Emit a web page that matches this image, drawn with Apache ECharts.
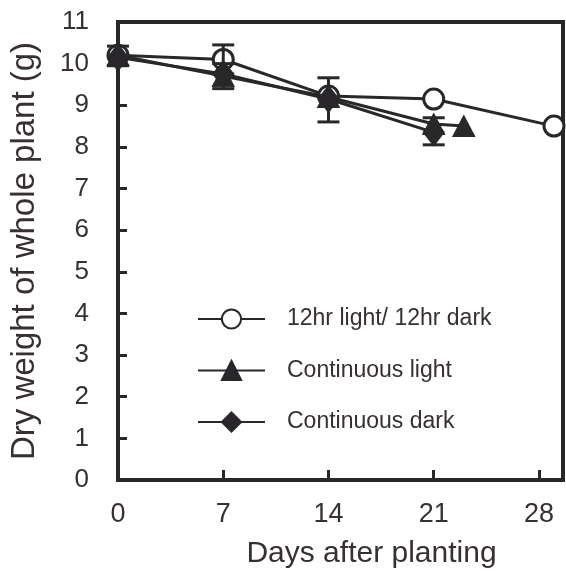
<!DOCTYPE html>
<html>
<head>
<meta charset="utf-8">
<title>Dry weight of whole plant</title>
<script src="https://cdn.jsdelivr.net/npm/echarts@6/dist/echarts.min.js"></script>
<style>
  html, body { margin: 0; padding: 0; background: #ffffff; }
  #chart { width: 566px; height: 586px; }
</style>
</head>
<body>
<div id="chart"></div>
<script>
// Dry weight (g) of the whole plant over days after planting, three light regimes
const lightDarkDays = [0, 7, 14, 21, 29];
const lightDarkWeight = [10.2, 10.1, 9.22, 9.15, 8.5];

const contLightDays = [0, 7, 14, 21, 23];
const contLightWeight = [10.2, 9.7, 9.2, 8.55, 8.5];

const contDarkDays = [0, 7, 14, 21];
const contDarkWeight = [10.15, 9.75, 9.15, 8.35];

// Error bars: day, lower and upper bound
const errDays = [0, 7, 7, 14, 21];
const errLow = [9.95, 9.75, 9.4, 8.6, 8.05];
const errHigh = [10.42, 10.45, 10.0, 9.66, 8.7];

const xTicks = [0, 7, 14, 21, 28];
const yTicks = [0, 1, 2, 3, 4, 5, 6, 7, 8, 9, 10, 11];

const seriesNames = ['12hr light/ 12hr dark', 'Continuous light', 'Continuous dark'];

const ink = '#29272a';
const textInk = '#363034';
const fontFamily = '"Liberation Sans", Arial, Helvetica, sans-serif';

function pairs(xs, ys) {
  return xs.map((x, i) => [x, ys[i]]);
}

const chart = echarts.init(document.getElementById('chart'), null, { renderer: 'canvas' });

const option = {
  backgroundColor: '#ffffff',
  animation: false,
  textStyle: { fontFamily: fontFamily, color: textInk },
  grid: {
    left: 113, right: 3, top: 22, bottom: 106,
    show: true, borderColor: ink, borderWidth: 4, backgroundColor: 'transparent'
  },
  legend: {
    orient: 'vertical',
    left: 197,
    top: 307,
    padding: 0,
    itemWidth: 67,
    itemHeight: 24,
    itemGap: 27.5,
    data: seriesNames,
    textStyle: {
      fontFamily: fontFamily, fontSize: 23, color: textInk,
      lineHeight: 24, padding: [0, 0, 0, 17]
    }
  },
  xAxis: {
    type: 'value',
    min: 0,
    max: 29.6,
    interval: 7,
    name: 'Days after planting',
    nameLocation: 'middle',
    nameGap: 59,
    nameTextStyle: { fontSize: 30, color: textInk, padding: [0, 0, 0, 62] },
    axisLine: { show: true, onZero: false, lineStyle: { color: ink, width: 4 } },
    axisTick: { show: true, inside: true, length: 10, lineStyle: { color: ink, width: 3 }, customValues: xTicks },
    axisLabel: { fontSize: 27, color: textInk, margin: 21, customValues: xTicks },
    splitLine: { show: false }
  },
  yAxis: {
    type: 'value',
    min: 0,
    max: 11,
    interval: 1,
    name: 'Dry weight of whole plant (g)',
    nameLocation: 'middle',
    nameRotate: 90,
    nameGap: 77,
    nameTextStyle: { fontSize: 33, color: textInk },
    axisLine: { show: true, onZero: false, lineStyle: { color: ink, width: 4 } },
    axisTick: { show: true, inside: true, length: 9, lineStyle: { color: ink, width: 3 }, customValues: yTicks },
    axisLabel: { fontSize: 26, color: textInk, margin: 29, customValues: yTicks },
    splitLine: { show: false }
  },
  series: [
    {
      name: seriesNames[0],
      type: 'line',
      z: 2,
      data: pairs(lightDarkDays, lightDarkWeight),
      symbol: 'circle',
      symbolSize: 20,
      lineStyle: { color: ink, width: 3 },
      itemStyle: { color: '#ffffff', borderColor: ink, borderWidth: 3 }
    },
    {
      type: 'custom',
      name: 'error',
      z: 3,
      silent: true,
      data: errDays.map((d, i) => [d, errLow[i], errHigh[i]]),
      encode: { x: 0, y: [1, 2] },
      renderItem: function (params, api) {
        const lo = api.coord([api.value(0), api.value(1)]);
        const hi = api.coord([api.value(0), api.value(2)]);
        const half = 11;
        const style = { stroke: ink, lineWidth: 3 };
        return {
          type: 'group',
          children: [
            { type: 'line', shape: { x1: lo[0], y1: lo[1], x2: hi[0], y2: hi[1] }, style: style },
            { type: 'line', shape: { x1: lo[0] - half, y1: lo[1], x2: lo[0] + half, y2: lo[1] }, style: style },
            { type: 'line', shape: { x1: hi[0] - half, y1: hi[1], x2: hi[0] + half, y2: hi[1] }, style: style }
          ]
        };
      }
    },
    {
      name: seriesNames[2],
      type: 'line',
      z: 4,
      data: pairs(contDarkDays, contDarkWeight),
      symbol: 'diamond',
      symbolSize: [21, 27],
      lineStyle: { color: ink, width: 3 },
      itemStyle: { color: ink, borderColor: ink, borderWidth: 1 }
    },
    {
      name: seriesNames[1],
      type: 'line',
      z: 5,
      data: pairs(contLightDays, contLightWeight),
      symbol: 'triangle',
      symbolSize: [22, 21],
      lineStyle: { color: ink, width: 3 },
      itemStyle: { color: ink, borderColor: ink, borderWidth: 1 }
    }
  ]
};

chart.setOption(option);
</script>
</body>
</html>
